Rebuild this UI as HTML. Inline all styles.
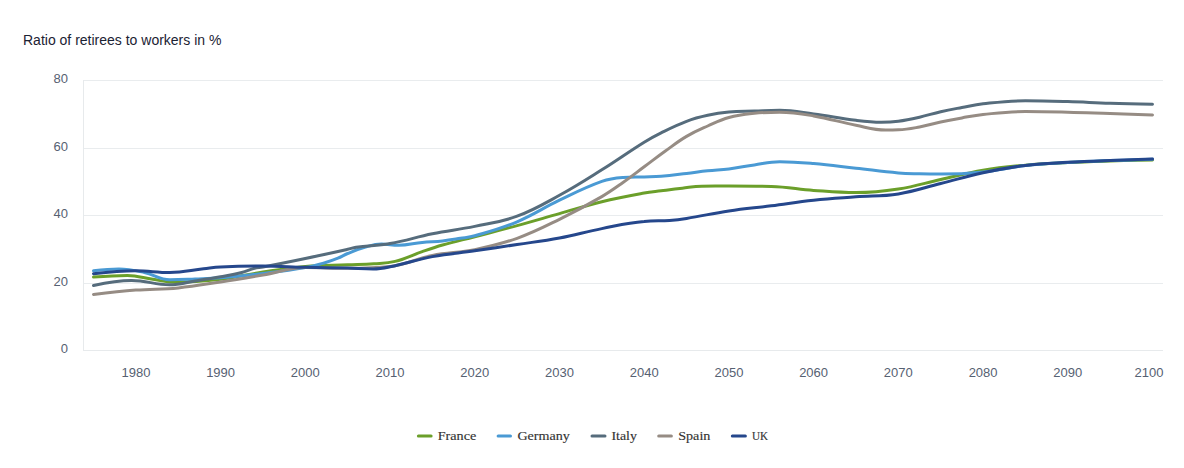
<!DOCTYPE html>
<html><head><meta charset="utf-8"><title>Ratio of retirees to workers</title>
<style>
html,body{margin:0;padding:0;background:#fff;}
body{width:1184px;height:468px;overflow:hidden;font-family:"Liberation Sans",sans-serif;}
svg{display:block;}
.title{font-family:"Liberation Sans",sans-serif;font-size:14px;fill:#1b2233;}
.ax{font-family:"Liberation Sans",sans-serif;font-size:13px;fill:#566172;}
.lg{font-family:"Liberation Serif",serif;font-size:13px;fill:#333;stroke:#333;stroke-width:0.15px;}
</style></head><body>
<svg width="1184" height="468" viewBox="0 0 1184 468">
<rect width="1184" height="468" fill="#ffffff"/>
<text x="23" y="44.7" class="title">Ratio of retirees to workers in %</text>
<rect x="83" y="80" width="1080" height="1" fill="#e9ecee"/>
<rect x="83" y="148" width="1080" height="1" fill="#e9ecee"/>
<rect x="83" y="215" width="1080" height="1" fill="#e9ecee"/>
<rect x="83" y="283" width="1080" height="1" fill="#e9ecee"/>
<rect x="83" y="350" width="1080" height="1" fill="#e7eaec"/>
<rect x="83" y="80" width="1" height="271" fill="#e7eaec"/>
<text x="68" y="82.8" text-anchor="end" class="ax">80</text>
<text x="68" y="151.2" text-anchor="end" class="ax">60</text>
<text x="68" y="217.8" text-anchor="end" class="ax">40</text>
<text x="68" y="286.2" text-anchor="end" class="ax">20</text>
<text x="68" y="352.8" text-anchor="end" class="ax">0</text>
<text x="135.9" y="376.6" text-anchor="middle" class="ax">1980</text>
<text x="220.6" y="376.6" text-anchor="middle" class="ax">1990</text>
<text x="305.3" y="376.6" text-anchor="middle" class="ax">2000</text>
<text x="390.0" y="376.6" text-anchor="middle" class="ax">2010</text>
<text x="474.7" y="376.6" text-anchor="middle" class="ax">2020</text>
<text x="559.5" y="376.6" text-anchor="middle" class="ax">2030</text>
<text x="644.2" y="376.6" text-anchor="middle" class="ax">2040</text>
<text x="728.9" y="376.6" text-anchor="middle" class="ax">2050</text>
<text x="813.6" y="376.6" text-anchor="middle" class="ax">2060</text>
<text x="898.3" y="376.6" text-anchor="middle" class="ax">2070</text>
<text x="983.1" y="376.6" text-anchor="middle" class="ax">2080</text>
<text x="1067.8" y="376.6" text-anchor="middle" class="ax">2090</text>
<text x="1149.0" y="376.6" text-anchor="middle" class="ax">2100</text>
<path d="M 93.50 277.10 C 93.50 277.10 113.83 275.40 127.39 275.40 C 137.55 275.40 142.64 277.82 152.80 279.30 C 161.28 280.54 165.51 282.20 173.98 282.20 C 192.62 282.20 201.94 281.44 220.58 279.30 C 237.52 277.36 246.00 274.58 262.94 272.00 C 279.88 269.42 288.36 267.86 305.30 266.40 C 322.24 264.94 330.72 265.37 347.66 264.70 C 358.17 264.29 363.42 264.43 373.92 263.70 C 382.40 263.11 386.63 263.52 395.10 261.40 C 405.95 258.68 411.37 255.35 422.21 251.60 C 430.35 248.79 434.41 247.31 442.55 245.00 C 455.42 241.35 461.86 240.05 474.74 236.70 C 491.68 232.29 500.16 230.22 517.10 225.60 C 534.04 220.98 542.52 218.38 559.46 213.60 C 576.40 208.82 584.88 205.82 601.82 201.70 C 618.76 197.58 627.24 196.11 644.18 193.00 C 650.96 191.75 654.35 191.65 661.12 190.80 C 669.60 189.73 673.83 189.16 682.30 188.20 C 690.10 187.32 694.00 186.30 701.79 186.20 C 712.63 186.10 718.06 186.10 728.90 186.10 C 745.84 186.10 754.32 186.10 771.26 186.50 C 788.20 186.90 796.68 189.18 813.62 190.40 C 830.56 191.62 839.04 192.60 855.98 192.60 C 872.92 192.60 881.40 191.62 898.34 189.00 C 915.28 186.38 923.76 183.26 940.70 179.50 C 957.64 175.74 966.12 173.06 983.06 170.20 C 1000.00 167.34 1008.48 166.72 1025.42 165.20 C 1042.36 163.68 1050.84 163.44 1067.78 162.60 C 1084.72 161.76 1093.20 161.54 1110.14 161.00 C 1127.08 160.46 1152.50 159.90 1152.50 159.90" fill="none" stroke="#6b9f2a" stroke-width="3" stroke-linecap="round" stroke-linejoin="round"/>
<path d="M 93.50 270.80 C 93.50 270.80 108.75 269.00 118.92 269.00 C 129.08 269.00 134.17 270.34 144.33 272.50 C 154.50 274.66 159.58 279.80 169.75 279.80 C 179.91 279.80 185.00 279.40 195.16 279.00 C 205.33 278.60 210.41 278.62 220.58 277.80 C 237.52 276.43 246.00 275.54 262.94 273.50 C 279.88 271.46 288.36 270.57 305.30 267.60 C 313.43 266.17 317.50 264.84 325.63 262.50 C 330.55 261.08 333.00 260.21 337.92 258.20 C 341.81 256.61 343.76 255.09 347.66 253.50 C 354.78 250.61 358.33 248.99 365.45 247.00 C 371.89 245.19 375.11 244.00 381.55 244.00 C 388.33 244.00 391.71 245.30 398.49 245.30 C 407.98 245.30 412.72 243.35 422.21 242.40 C 430.35 241.59 434.41 241.77 442.55 240.90 C 449.66 240.13 453.22 239.43 460.34 238.30 C 466.10 237.39 468.98 237.47 474.74 235.80 C 491.68 230.87 500.16 228.92 517.10 221.80 C 534.04 214.68 542.52 208.28 559.46 200.20 C 576.40 192.12 584.88 187.45 601.82 181.40 C 610.29 178.37 614.53 178.10 623.00 177.50 C 631.47 176.90 635.71 177.17 644.18 176.90 C 650.96 176.69 654.35 176.84 661.12 176.30 C 671.29 175.48 676.37 174.70 686.54 173.50 C 695.01 172.50 699.25 171.70 707.72 170.80 C 716.19 169.90 720.43 170.07 728.90 169.00 C 739.07 167.71 744.15 166.34 754.32 164.90 C 764.48 163.46 769.57 161.80 779.73 161.80 C 793.29 161.80 800.06 162.46 813.62 163.60 C 830.56 165.02 839.04 166.34 855.98 168.20 C 872.92 170.06 881.40 171.41 898.34 172.90 C 906.81 173.65 911.05 173.56 919.52 173.80 C 927.99 174.04 932.23 174.10 940.70 174.10 C 957.64 174.10 966.12 173.60 983.06 171.90 C 1000.00 170.20 1008.48 167.48 1025.42 165.60 C 1042.36 163.72 1050.84 163.50 1067.78 162.50 C 1084.72 161.50 1093.20 161.24 1110.14 160.60 C 1127.08 159.96 1152.50 159.30 1152.50 159.30" fill="none" stroke="#4a9ad4" stroke-width="3" stroke-linecap="round" stroke-linejoin="round"/>
<path d="M 93.50 285.50 C 93.50 285.50 116.37 280.50 131.62 280.50 C 146.87 280.50 154.50 284.80 169.75 284.80 C 179.91 284.80 185.00 282.60 195.16 281.00 C 205.33 279.40 210.41 278.65 220.58 276.80 C 229.05 275.25 233.29 274.65 241.76 272.50 C 246.84 271.21 249.38 269.52 254.47 268.20 C 257.86 267.32 259.55 267.65 262.94 267.00 C 279.88 263.77 288.36 262.04 305.30 258.50 C 322.24 254.96 330.72 253.07 347.66 249.30 C 351.05 248.55 352.74 247.66 356.13 247.20 C 369.69 245.34 376.46 245.88 390.02 243.50 C 406.96 240.52 415.44 237.22 432.38 233.80 C 449.32 230.38 457.80 229.92 474.74 226.40 C 491.68 222.88 500.16 222.42 517.10 216.20 C 534.04 209.98 542.52 204.58 559.46 195.30 C 576.40 186.02 584.88 180.42 601.82 169.80 C 618.76 159.18 627.24 152.77 644.18 142.20 C 650.96 137.97 654.35 136.14 661.12 132.80 C 671.29 127.78 676.37 125.12 686.54 121.30 C 695.01 118.12 699.25 117.14 707.72 115.30 C 716.19 113.46 720.43 112.86 728.90 112.10 C 739.07 111.18 744.15 111.48 754.32 111.10 C 764.48 110.72 769.57 110.20 779.73 110.20 C 793.29 110.20 800.06 112.10 813.62 113.90 C 830.56 116.14 839.04 118.23 855.98 120.30 C 866.15 121.54 871.23 122.20 881.40 122.20 C 888.17 122.20 891.56 122.09 898.34 121.20 C 906.81 120.09 911.05 119.10 919.52 117.20 C 927.99 115.30 932.23 113.64 940.70 111.70 C 949.17 109.76 953.41 109.08 961.88 107.50 C 970.35 105.92 974.59 104.69 983.06 103.80 C 1000.00 102.01 1008.48 100.80 1025.42 100.80 C 1042.36 100.80 1050.84 101.10 1067.78 101.60 C 1084.72 102.10 1093.20 102.78 1110.14 103.30 C 1127.08 103.82 1152.50 104.20 1152.50 104.20" fill="none" stroke="#566c7c" stroke-width="3" stroke-linecap="round" stroke-linejoin="round"/>
<path d="M 93.50 294.40 C 93.50 294.40 118.92 291.40 135.86 290.10 C 152.80 288.80 161.28 289.54 178.22 287.90 C 195.16 286.26 203.64 284.48 220.58 281.90 C 237.52 279.32 246.00 277.88 262.94 275.00 C 279.88 272.12 288.36 267.50 305.30 267.50 C 322.24 267.50 330.72 268.30 347.66 268.30 C 364.60 268.30 373.08 268.30 390.02 266.50 C 406.96 264.70 415.44 258.88 432.38 255.50 C 449.32 252.12 457.80 253.04 474.74 249.60 C 491.68 246.16 500.16 244.36 517.10 238.30 C 534.04 232.24 542.52 227.64 559.46 219.30 C 576.40 210.96 584.88 206.41 601.82 196.60 C 610.29 191.69 614.53 188.46 623.00 182.50 C 631.47 176.54 635.71 173.10 644.18 166.80 C 652.65 160.50 656.89 157.08 665.36 151.00 C 673.83 144.92 678.07 141.40 686.54 136.40 C 695.01 131.40 699.25 129.78 707.72 126.00 C 716.19 122.22 720.43 119.81 728.90 117.50 C 739.07 114.73 744.15 114.36 754.32 113.30 C 764.48 112.24 769.57 112.20 779.73 112.20 C 793.29 112.20 800.06 113.57 813.62 115.90 C 830.56 118.81 839.04 121.98 855.98 125.30 C 867.84 127.62 873.77 130.00 885.63 130.00 C 890.72 130.00 893.26 130.00 898.34 129.80 C 906.81 129.60 911.05 128.56 919.52 127.00 C 927.99 125.44 932.23 123.82 940.70 122.00 C 949.17 120.18 953.41 119.40 961.88 117.90 C 970.35 116.40 974.59 115.35 983.06 114.50 C 1000.00 112.79 1008.48 111.50 1025.42 111.50 C 1042.36 111.50 1050.84 111.78 1067.78 112.20 C 1084.72 112.62 1093.20 113.04 1110.14 113.60 C 1127.08 114.16 1152.50 115.00 1152.50 115.00" fill="none" stroke="#968c84" stroke-width="3" stroke-linecap="round" stroke-linejoin="round"/>
<path d="M 93.50 273.70 C 93.50 273.70 118.92 270.80 135.86 270.80 C 149.42 270.80 156.19 272.50 169.75 272.50 C 183.30 272.50 190.08 270.27 203.64 268.80 C 210.41 268.07 213.80 267.32 220.58 267.00 C 237.52 266.20 246.00 266.00 262.94 266.00 C 279.88 266.00 288.36 266.88 305.30 267.30 C 322.24 267.72 330.72 267.68 347.66 268.10 C 357.83 268.36 362.91 269.00 373.08 269.00 C 379.85 269.00 383.24 268.22 390.02 266.80 C 406.96 263.26 415.44 259.80 432.38 256.60 C 449.32 253.40 457.80 253.22 474.74 250.80 C 491.68 248.38 500.16 247.06 517.10 244.50 C 534.04 241.94 542.52 241.18 559.46 238.00 C 576.40 234.82 584.88 231.88 601.82 228.60 C 618.76 225.32 627.24 222.80 644.18 221.60 C 654.35 220.40 659.43 221.17 669.60 220.40 C 676.37 219.89 679.76 219.47 686.54 218.40 C 703.48 215.71 711.96 213.52 728.90 211.00 C 745.84 208.48 754.32 207.96 771.26 205.80 C 788.20 203.64 796.68 202.00 813.62 200.20 C 830.56 198.40 839.04 198.06 855.98 196.80 C 872.92 195.54 881.40 196.56 898.34 193.90 C 915.28 191.24 923.76 187.74 940.70 183.50 C 957.64 179.26 966.12 176.32 983.06 172.70 C 1000.00 169.08 1008.48 167.48 1025.42 165.40 C 1042.36 163.32 1050.84 163.30 1067.78 162.30 C 1084.72 161.30 1093.20 161.04 1110.14 160.40 C 1127.08 159.76 1152.50 159.10 1152.50 159.10" fill="none" stroke="#25478c" stroke-width="3" stroke-linecap="round" stroke-linejoin="round"/>
<line x1="418.4" y1="436" x2="431.1" y2="436" stroke="#6b9f2a" stroke-width="3" stroke-linecap="round"/>
<text x="437.7" y="439.6" class="lg" textLength="38.6" lengthAdjust="spacingAndGlyphs">France</text>
<line x1="498.1" y1="436" x2="510.5" y2="436" stroke="#4a9ad4" stroke-width="3" stroke-linecap="round"/>
<text x="517.4" y="439.6" class="lg" textLength="52.3" lengthAdjust="spacingAndGlyphs">Germany</text>
<line x1="592.0" y1="436" x2="605.0" y2="436" stroke="#566c7c" stroke-width="3" stroke-linecap="round"/>
<text x="611.5" y="439.6" class="lg" textLength="25.4" lengthAdjust="spacingAndGlyphs">Italy</text>
<line x1="658.7" y1="436" x2="671.4" y2="436" stroke="#968c84" stroke-width="3" stroke-linecap="round"/>
<text x="678.2" y="439.6" class="lg" textLength="32.2" lengthAdjust="spacingAndGlyphs">Spain</text>
<line x1="732.3" y1="436" x2="745.4" y2="436" stroke="#25478c" stroke-width="3" stroke-linecap="round"/>
<text x="752.0" y="439.6" class="lg" textLength="16.1" lengthAdjust="spacingAndGlyphs">UK</text>

</svg>
</body></html>
